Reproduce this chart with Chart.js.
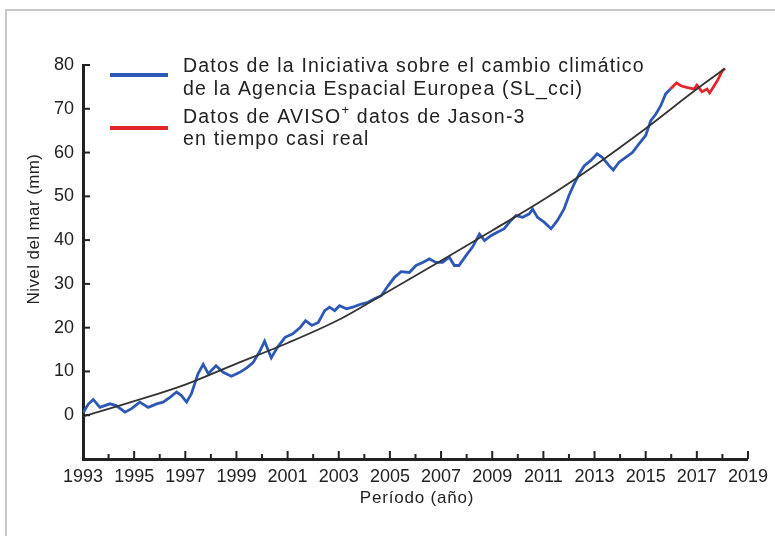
<!DOCTYPE html>
<html>
<head>
<meta charset="utf-8">
<script src="https://cdn.jsdelivr.net/npm/chart.js@4.4.1/dist/chart.umd.min.js"></script>
<style>
  body { margin:0; background:#fff; overflow:hidden; }
  #frame { position:absolute; left:5px; top:9px; width:800px; height:600px; border:2px solid #c8c8c8; }
  #seaLevelChart { position:absolute; left:0; top:0; }
</style>
</head>
<body>
<div id="frame"></div>
<canvas id="seaLevelChart" width="775" height="536"></canvas>
<script>
// SL_cci (azul)
var blueYears = [1993.0,1993.2,1993.4,1993.66,1994.05,1994.3,1994.64,1994.9,1995.22,1995.55,1995.88,1996.13,1996.4,1996.66,1996.85,
  1997.05,1997.24,1997.5,1997.7,1997.9,1998.2,1998.48,1998.8,1999.13,1999.4,1999.65,1999.9,2000.1,2000.36,2000.6,2000.9,
  2001.2,2001.5,2001.7,2001.95,2002.2,2002.45,2002.64,2002.84,2003.03,2003.3,2003.55,2003.88,2004.14,2004.4,2004.66,2004.92,
  2005.18,2005.44,2005.76,2006.02,2006.28,2006.54,2006.8,2007.06,2007.32,2007.52,2007.7,2007.98,2008.23,2008.5,2008.7,2008.95,
  2009.2,2009.47,2009.73,2009.93,2010.19,2010.45,2010.58,2010.77,2011.03,2011.3,2011.55,2011.81,2012.0,2012.2,2012.4,2012.6,
  2012.86,2013.1,2013.3,2013.57,2013.73,2013.96,2014.22,2014.48,2014.74,2015.0,2015.2,2015.4,2015.59,2015.78,2015.97]
var blueLevels = [0.5,2.5,3.6,1.8,2.6,2.2,0.7,1.5,3.0,1.8,2.6,3.0,4.1,5.3,4.5,
  3.0,4.9,9.5,11.6,9.5,11.3,9.8,8.9,9.8,10.8,12.0,14.5,16.9,13.1,15.5,17.8,
  18.6,20.1,21.6,20.5,21.2,23.9,24.7,23.9,25.0,24.3,24.7,25.4,25.8,26.6,27.3,29.5,
  31.5,32.8,32.6,34.2,34.9,35.7,34.9,34.9,36.1,34.2,34.2,36.5,38.4,41.4,39.9,41.0,
  41.8,42.6,44.5,45.6,45.2,46.0,47.1,45.2,44.1,42.6,44.5,47.1,50.2,52.8,55.1,57.0,
  58.2,59.7,58.9,57.0,56.0,57.8,58.9,60.0,62.0,63.9,67.3,68.8,70.7,73.4,74.5]

// AVISO+ Jason-3 (rojo)
var redYears = [2015.97,2016.2,2016.4,2016.6,2016.9,2017.0,2017.2,2017.4,2017.5,2017.8,2018.0,2018.1]
var redLevels = [74.5,75.9,75.2,74.9,74.5,75.4,73.9,74.5,73.6,76.4,78.7,79.2]

// tendencia
var trendYears = [1993,1995,1997,1999,2001,2003,2005,2007,2009,2011,2013,2015,2017,2018.1]
var trendLevels = [-0.3,3.2,7.0,11.8,16.5,21.8,28.5,35.3,42.2,49.2,57.0,65.5,74.5,79.2]

var labeledYears = [1993,1995,1997,1999,2001,2003,2005,2007,2009,2011,2013,2015,2017,2019]
var yTickValues = [0,10,20,30,40,50,60,70,80]

var legendLines = [
  ['Datos de la Iniciativa sobre el cambio climático', 'de la Agencia Espacial Europea (SL_cci)'],
  ['Datos de AVISO', 'en tiempo casi real']
]

var FONT = "'Liberation Sans', Arial, sans-serif"
var INK = '#222'

function toPoints(xs, ys){
  return xs.map(function(x, i){ return {x:x, y:ys[i]} })
}

var extras = {
  id:'extras',
  afterDraw:function(chart){
    var ctx = chart.ctx, xs = chart.scales.x, ys = chart.scales.y
    var left = chart.chartArea.left, bottom = chart.chartArea.bottom
    ctx.save()
    ctx.strokeStyle = INK
    ctx.lineWidth = 2
    // marcas del eje x, hacia dentro
    for(var yr=1994; yr<=2019; yr++){
      var px = xs.getPixelForValue(yr)
      var len = labeledYears.indexOf(yr) >= 0 ? 8 : 5
      ctx.beginPath(); ctx.moveTo(px, bottom); ctx.lineTo(px, bottom-len); ctx.stroke()
    }
    // marcas del eje y
    yTickValues.forEach(function(v){
      var py = ys.getPixelForValue(v)
      ctx.beginPath(); ctx.moveTo(left, py); ctx.lineTo(left+7, py); ctx.stroke()
    })

    // leyenda
    var colors = ['#2d58b6', '#e2272c']
    var sampleY = [75, 128]
    colors.forEach(function(c, i){
      ctx.strokeStyle = c; ctx.lineWidth = 4
      ctx.beginPath(); ctx.moveTo(110, sampleY[i]); ctx.lineTo(168, sampleY[i]); ctx.stroke()
    })
    ctx.fillStyle = INK
    ctx.textBaseline = 'alphabetic'
    ctx.textAlign = 'left'
    ctx.font = '19.5px ' + FONT
    ctx.letterSpacing = '1.2px'
    ctx.fillText(legendLines[0][0], 183, 72)
    ctx.fillText(legendLines[0][1], 183, 95)
    ctx.fillText(legendLines[1][0], 183, 123)
    var w = ctx.measureText(legendLines[1][0]).width
    ctx.font = '13px ' + FONT
    ctx.fillText('+', 183 + w, 114)
    var w2 = ctx.measureText('+').width
    ctx.font = '19.5px ' + FONT
    ctx.fillText(' datos de Jason-3', 183 + w + w2, 123)
    ctx.fillText(legendLines[1][1], 183, 145)

    // títulos de ejes
    ctx.font = '17px ' + FONT
    ctx.letterSpacing = '0.8px'
    ctx.textAlign = 'center'
    ctx.fillText('Período (año)', 417, 503)
    ctx.save()
    ctx.translate(39, 229)
    ctx.rotate(-Math.PI/2)
    ctx.letterSpacing = '0.4px'
    ctx.fillText('Nivel del mar (mm)', 0, 0)
    ctx.restore()
    ctx.restore()
  }
}

var seaLevelChart = new Chart(document.getElementById('seaLevelChart'), {
  type:'line',
  data:{
    datasets:[{
      label:'Tendencia',
      data:toPoints(trendYears, trendLevels),
      borderColor:'#333',
      borderWidth:1.8,
      pointRadius:0,
      tension:0.4,
      cubicInterpolationMode:'monotone'
    },{
      label:'SL_cci',
      data:toPoints(blueYears, blueLevels),
      borderColor:'#2d58b6',
      borderWidth:2.8,
      pointRadius:0,
      tension:0
    },{
      label:'AVISO+',
      data:toPoints(redYears, redLevels),
      borderColor:'#e2272c',
      borderWidth:2.8,
      pointRadius:0,
      tension:0
    }]
  },
  options:{
    responsive:false,
    animation:false,
    devicePixelRatio:1,
    layout:{ padding:{ top:65, right:25, left:0, bottom:0 } },
    plugins:{ legend:{ display:false }, tooltip:{ enabled:false } },
    scales:{
      x:{
        type:'linear', min:1993, max:2019,
        afterFit:function(s){ s.height = 77 },
        grid:{ display:false, drawTicks:false },
        border:{ display:true, width:3, color:INK },
        ticks:{
          stepSize:1, autoSkip:false, maxRotation:0, padding:7,
          color:INK, font:{ size:18, family:FONT },
          callback:function(v){ return labeledYears.indexOf(v) >= 0 ? String(v) : '' }
        }
      },
      y:{
        min:-10, max:80,
        afterFit:function(s){ s.width = 83 },
        grid:{ display:false, drawTicks:false },
        border:{ display:true, width:3, color:INK },
        ticks:{
          stepSize:10, padding:9,
          color:INK, font:{ size:18, family:FONT },
          callback:function(v){ return yTickValues.indexOf(v) >= 0 ? String(v) : '' }
        }
      }
    }
  },
  plugins:[extras]
})
</script>
</body>
</html>
